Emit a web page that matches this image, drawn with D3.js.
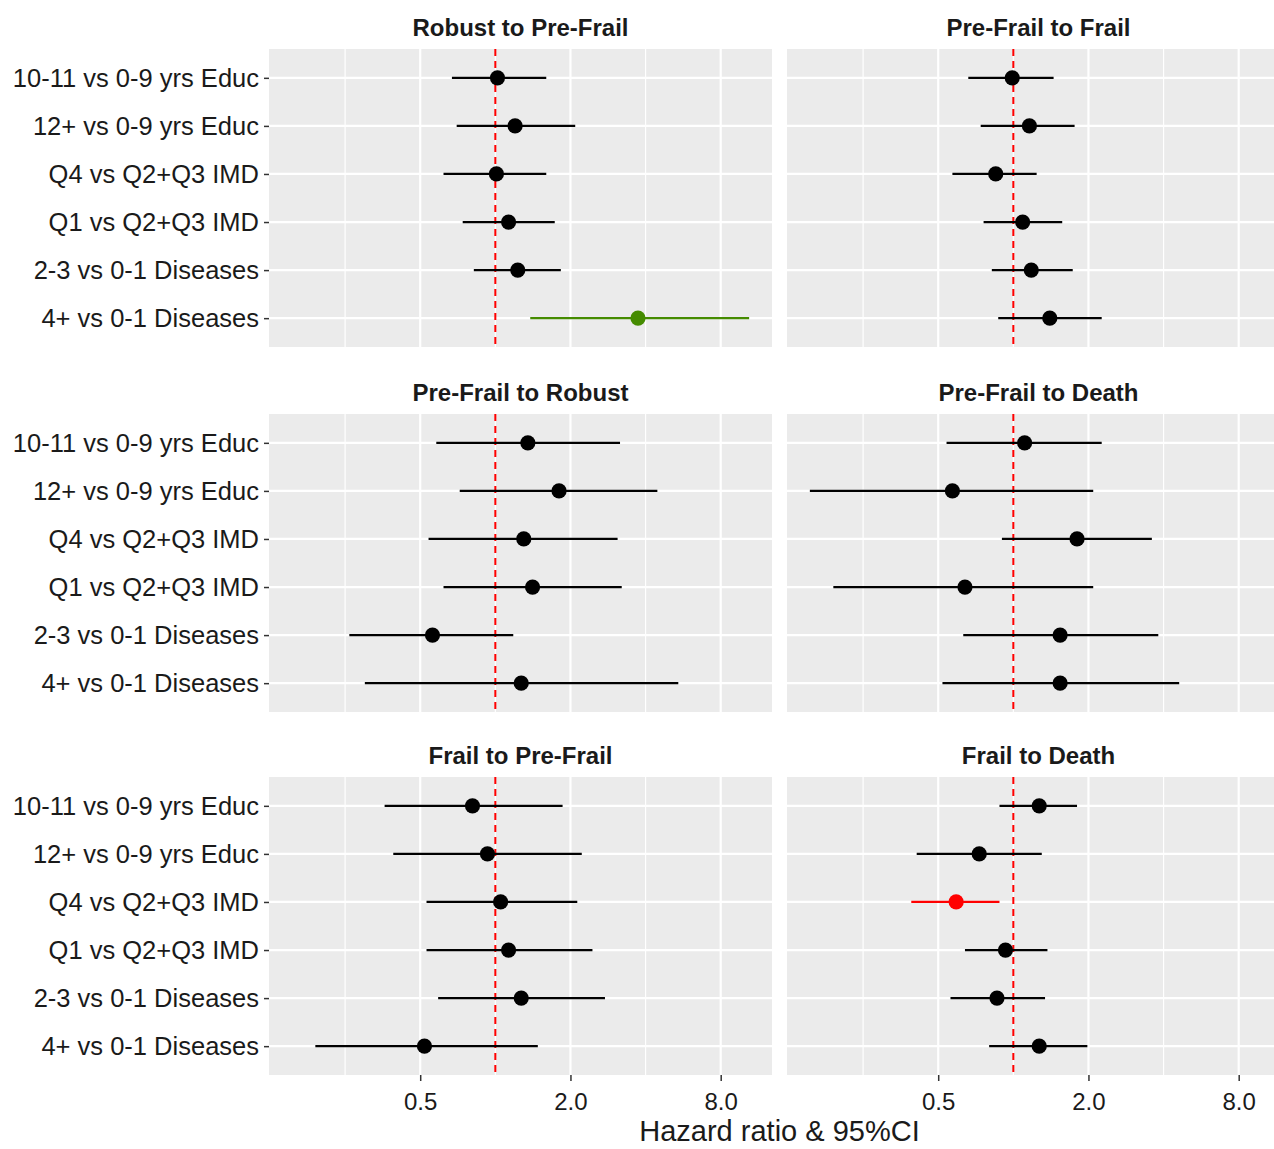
<!DOCTYPE html>
<html>
<head>
<meta charset="utf-8">
<script src="https://cdn.jsdelivr.net/npm/d3@7"></script>
<style>
	body { margin: 0; background: #ffffff; }
	text { font-family: "Liberation Sans", Arial, sans-serif; }
</style>
</head>
<body>
<div id="forest"></div>
<script>
(function() {
	// categories, top to bottom
	var categories = ["10-11 vs 0-9 yrs Educ", "12+ vs 0-9 yrs Educ", "Q4 vs Q2+Q3 IMD",
		"Q1 vs Q2+Q3 IMD", "2-3 vs 0-1 Diseases", "4+ vs 0-1 Diseases"];
	// facets, filled row by row
	var transitions = ["Robust to Pre-Frail", "Pre-Frail to Frail", "Pre-Frail to Robust",
		"Pre-Frail to Death", "Frail to Pre-Frail", "Frail to Death"];

	var hazardRatio = [
		[1.02, 1.20, 1.01, 1.13, 1.23, 3.73],
		[0.99, 1.16, 0.85, 1.09, 1.18, 1.40],
		[1.35, 1.80, 1.30, 1.41, 0.56, 1.27],
		[1.11, 0.57, 1.80, 0.64, 1.54, 1.54],
		[0.81, 0.93, 1.05, 1.13, 1.27, 0.52],
		[1.27, 0.73, 0.59, 0.93, 0.86, 1.27]
	];
	var ciLower = [
		[0.67, 0.70, 0.62, 0.74, 0.82, 1.38],
		[0.66, 0.74, 0.57, 0.76, 0.82, 0.87],
		[0.58, 0.72, 0.54, 0.62, 0.26, 0.30],
		[0.54, 0.153, 0.90, 0.19, 0.63, 0.52],
		[0.36, 0.39, 0.53, 0.53, 0.59, 0.19],
		[0.88, 0.41, 0.39, 0.64, 0.56, 0.80]
	];
	var ciUpper = [
		[1.60, 2.09, 1.60, 1.73, 1.83, 10.4],
		[1.45, 1.76, 1.24, 1.57, 1.73, 2.26],
		[3.16, 4.46, 3.09, 3.21, 1.18, 5.41],
		[2.26, 2.09, 3.59, 2.09, 3.81, 4.62],
		[1.86, 2.22, 2.13, 2.45, 2.75, 1.48],
		[1.80, 1.30, 0.88, 1.37, 1.34, 1.98]
	];
	var majorTicks = [0.5, 2, 8];
	var minorTicks = [0.25, 1, 4];

	var width = 1274;
	var height = 1149;
	var panelLeft = [269, 787];
	var panelTop = [49, 414, 777];
	var panelW = 503;
	var panelH = 298;
	var textColor = "#1a1a1a";

	var svg = d3.select("#forest")
		.append("svg")
		.attr("width", width)
		.attr("height", height);

	// shared log2 scale, expanded 5% like ggplot
	var allVals = d3.merge(ciLower.concat(ciUpper)).map(function(v) { return Math.log2(v); });
	var lo = d3.min(allVals), hi = d3.max(allVals);
	var pad = (hi - lo) * 0.05;
	var x = d3.scaleLog().base(2)
		.domain([Math.pow(2, lo - pad), Math.pow(2, hi + pad)])
		.range([0, panelW]);

	var y = d3.scalePoint()
		.domain(categories)
		.range([0, panelH])
		.padding(0.6);

	// colour from significance: green above 1, red below 1
	function pointColor(l, u) {
		if (l > 1) return "#458B00";
		if (u < 1) return "#FF0000";
		return "#000000";
	}

	transitions.forEach(function(name, i) {
		var col = i % 2;
		var row = Math.floor(i / 2);
		var g = svg.append("g")
			.attr("transform", "translate(" + panelLeft[col] + "," + panelTop[row] + ")");

		g.append("rect")
			.attr("width", panelW)
			.attr("height", panelH)
			.attr("fill", "#EBEBEB");

		g.selectAll(".minor")
			.data(minorTicks)
			.enter()
			.append("line")
			.attr("x1", function(d) { return x(d); })
			.attr("x2", function(d) { return x(d); })
			.attr("y1", 0)
			.attr("y2", panelH)
			.attr("stroke", "#ffffff")
			.attr("stroke-width", 1.2);

		g.selectAll(".major")
			.data(majorTicks)
			.enter()
			.append("line")
			.attr("x1", function(d) { return x(d); })
			.attr("x2", function(d) { return x(d); })
			.attr("y1", 0)
			.attr("y2", panelH)
			.attr("stroke", "#ffffff")
			.attr("stroke-width", 2.2);

		g.selectAll(".hgrid")
			.data(categories)
			.enter()
			.append("line")
			.attr("x1", 0)
			.attr("x2", panelW)
			.attr("y1", function(d) { return y(d); })
			.attr("y2", function(d) { return y(d); })
			.attr("stroke", "#ffffff")
			.attr("stroke-width", 2.2);

		// reference line at HR = 1
		g.append("line")
			.attr("x1", x(1))
			.attr("x2", x(1))
			.attr("y1", 0)
			.attr("y2", panelH)
			.attr("stroke", "#FF0000")
			.attr("stroke-width", 2)
			.attr("stroke-dasharray", "7,5");

		var rows = categories.map(function(c, j) {
			return { cat: c, hr: hazardRatio[i][j], lo: ciLower[i][j], hi: ciUpper[i][j] };
		});

		g.selectAll(".ci")
			.data(rows)
			.enter()
			.append("line")
			.attr("x1", function(d) { return x(d.lo); })
			.attr("x2", function(d) { return x(d.hi); })
			.attr("y1", function(d) { return y(d.cat); })
			.attr("y2", function(d) { return y(d.cat); })
			.attr("stroke", function(d) { return pointColor(d.lo, d.hi); })
			.attr("stroke-width", 2.2);

		g.selectAll(".pt")
			.data(rows)
			.enter()
			.append("circle")
			.attr("cx", function(d) { return x(d.hr); })
			.attr("cy", function(d) { return y(d.cat); })
			.attr("r", 7.6)
			.attr("fill", function(d) { return pointColor(d.lo, d.hi); });

		// strip title
		g.append("text")
			.attr("x", panelW / 2)
			.attr("y", -13.5)
			.attr("text-anchor", "middle")
			.attr("font-size", "24px")
			.attr("font-weight", "bold")
			.attr("fill", textColor)
			.text(name);

		if (col === 0) {
			var ya = g.append("g")
				.call(d3.axisLeft(y).tickSize(5).tickPadding(5));
			ya.select(".domain").remove();
			ya.selectAll("line").attr("stroke", "#333333").attr("stroke-width", 1.5);
			ya.selectAll("text")
				.attr("font-size", "25.5px")
				.attr("font-family", "Liberation Sans, Arial, sans-serif")
				.attr("fill", textColor);
		}

		if (row === 2) {
			var xa = g.append("g")
				.attr("transform", "translate(0," + panelH + ")")
				.call(d3.axisBottom(x).tickValues(majorTicks).tickFormat(d3.format(".1f")).tickSize(6).tickPadding(12));
			xa.select(".domain").remove();
			xa.selectAll("line").attr("stroke", "#333333").attr("stroke-width", 1.5);
			xa.selectAll("text")
				.attr("font-size", "24px")
				.attr("font-family", "Liberation Sans, Arial, sans-serif")
				.attr("fill", textColor);
		}
	});

	svg.append("text")
		.attr("x", (panelLeft[0] + panelLeft[1] + panelW) / 2)
		.attr("y", 1141)
		.attr("text-anchor", "middle")
		.attr("font-size", "29px")
		.attr("fill", textColor)
		.text("Hazard ratio & 95%CI");
})();
</script>
</body>
</html>
